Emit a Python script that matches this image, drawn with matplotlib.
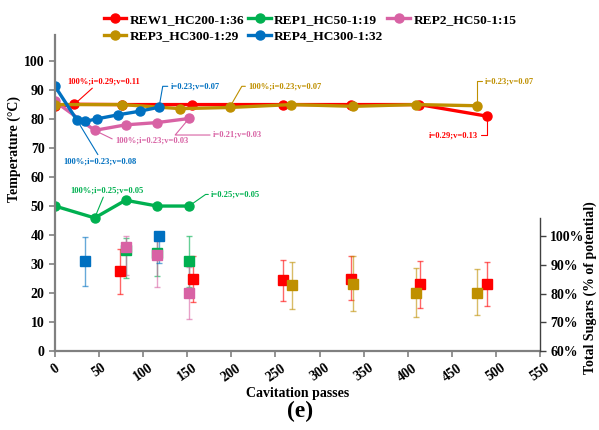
import matplotlib.pyplot as plt
from matplotlib.ticker import FuncFormatter

plt.rcParams['font.family'] = ['Liberation Serif', 'DejaVu Serif']
plt.rcParams['font.weight'] = 'bold'

# temperature series (passes, deg C)
rew1_x = [0, 22, 76, 155, 259, 336, 413, 490]
rew1_t = [84.4, 85.1, 85.0, 85.0, 85.0, 85.0, 85.0, 81.0]
rep1_x = [0, 45, 80, 116, 152]
rep1_t = [50.0, 45.9, 52.0, 50.0, 50.0]
rep2_x = [0, 45, 80, 116, 152]
rep2_t = [86.1, 76.1, 78.0, 78.8, 80.2]
rep3_x = [0, 76, 142, 198, 268, 338, 409, 479]
rep3_t = [85.0, 85.0, 83.6, 84.0, 85.0, 84.4, 85.0, 84.6]
rep4_x = [0, 25, 34, 48, 72, 96, 118]
rep4_t = [91.3, 79.6, 79.2, 80.1, 81.5, 82.7, 84.1]

# total sugars (% of potential) with error bars
rew1_sx = [74, 156, 259, 336, 414, 490]
rew1_s = [87.9, 85.2, 84.6, 85.2, 83.2, 83.5]
rew1_lo = [7.9, 8.3, 7.3, 7.5, 8.1, 7.9]
rew1_hi = [7.8, 7.8, 7.2, 7.8, 8.2, 7.5]
rep1_sx = [80, 116, 152]
rep1_s = [95.3, 94.1, 91.4]
rep1_lo = [9.7, 8.0, 9.0]
rep1_hi = [4.0, 5.0, 8.6]
rep2_sx = [80, 116, 152]
rep2_s = [96.2, 93.3, 80.3]
rep2_lo = [9.8, 11.0, 9.0]
rep2_hi = [3.8, 5.0, 9.0]
rep3_sx = [269, 338, 409, 479]
rep3_s = [82.9, 83.2, 80.3, 80.3]
rep3_lo = [8.1, 9.4, 8.5, 7.9]
rep3_hi = [8.0, 9.8, 8.7, 8.4]
rep4_sx = [34, 118]
rep4_s = [91.4, 100.0]
rep4_lo = [8.6, 9.3]
rep4_hi = [8.3, 1.0]

red = '#FF0000'
green = '#00B050'
pink = '#D862A4'
gold = '#BF9000'
blue = '#0070C0'

fig = plt.figure(figsize=(5.99, 4.30), dpi=100)
ax = fig.add_axes([55 / 599, 79 / 430, 485 / 599, 316 / 430])
ax2 = ax.twinx()

lw = 2.4
ms = 6.5
h_rew1, = ax.plot(rew1_x, rew1_t, '-o', color=red, lw=lw, ms=ms, label='REW1_HC200-1:36')
h_rep1, = ax.plot(rep1_x, rep1_t, '-o', color=green, lw=lw, ms=ms, label='REP1_HC50-1:19')
h_rep2, = ax.plot(rep2_x, rep2_t, '-o', color=pink, lw=lw, ms=ms, label='REP2_HC50-1:15')
h_rep3, = ax.plot(rep3_x, rep3_t, '-o', color=gold, lw=lw, ms=ms, label='REP3_HC300-1:29')
h_rep4, = ax.plot(rep4_x, rep4_t, '-o', color=blue, lw=lw, ms=ms, label='REP4_HC300-1:32')

# sugars on the secondary axis
for sx, s, lo, hi, c in [(rew1_sx, rew1_s, rew1_lo, rew1_hi, red),
                         (rep1_sx, rep1_s, rep1_lo, rep1_hi, green),
                         (rep2_sx, rep2_s, rep2_lo, rep2_hi, pink),
                         (rep3_sx, rep3_s, rep3_lo, rep3_hi, gold),
                         (rep4_sx, rep4_s, rep4_lo, rep4_hi, blue)]:
    ax2.errorbar(sx, s, yerr=[lo, hi], fmt='s', color=c, ms=7.5, mec=c,
                 ecolor=c, elinewidth=1.0, capsize=2.5, capthick=1.0,
                 zorder=3)
    for coll in ax2.containers[-1].lines[2]:
        coll.set_alpha(0.6)
    for cap in ax2.containers[-1].lines[1]:
        cap.set_alpha(0.6)

ax.set_xlim(0, 550)
ax.set_ylim(0, 109)
ax2.set_ylim(60, 60 + 316 / 2.87)
ax.set_xticks(range(0, 551, 50))
ax.set_yticks(range(0, 101, 10))
ax2.set_yticks(range(60, 101, 10))
ax2.yaxis.set_major_formatter(FuncFormatter(lambda v, p: '%d%%' % v))

for a in (ax, ax2):
    a.spines['top'].set_visible(False)
ax.spines['right'].set_visible(False)
ax2.spines['left'].set_visible(False)
ax2.spines['bottom'].set_visible(False)
ax.spines['left'].set_color('#808080')
ax.spines['bottom'].set_color('#808080')
ax.spines['left'].set_linewidth(1.6)
ax.spines['bottom'].set_linewidth(1.6)
ax2.spines['right'].set_color('#404040')
ax2.spines['right'].set_linewidth(1.0)
ax2.spines['right'].set_bounds(60, 106.5)

ax.tick_params(axis='both', colors='#808080', labelcolor='black', labelsize=10,
               length=4, width=1.2)
ax2.tick_params(axis='y', colors='#404040', labelcolor='black', labelsize=10,
                length=4, width=1.0)
for lab in ax.get_xticklabels():
    lab.set_rotation(35)
    lab.set_fontweight('bold')
for lab in ax.get_yticklabels() + ax2.get_yticklabels():
    lab.set_fontweight('bold')

ax.set_xlabel('Cavitation passes', fontsize=10, fontweight='bold', labelpad=2)
ax.set_ylabel('Temperature (°C)', fontsize=10, fontweight='bold')
ax.yaxis.set_label_coords(-0.07, 0.64)
ax2.set_ylabel('Total Sugars (% of potential)', fontsize=10, fontweight='bold')
ax2.yaxis.set_label_coords(1.09, 0.2)

# annotations
afs = 6.1
def note(text, xy, xytext, color, ha='left', relpos=(0, 0.5), conn='arc3'):
    ax.annotate(text, xy=xy, xytext=xytext, color=color, fontsize=afs,
                fontweight='bold', ha=ha, va='center',
                arrowprops=dict(arrowstyle='-', color=color, lw=0.8,
                                relpos=relpos, shrinkA=0, shrinkB=3,
                                connectionstyle=conn))

note('100%;i=0.29;v=0.11', (rew1_x[1], rew1_t[1]), (14.5, 93), red, relpos=(0.38, 0))
note('i=0.23;v=0.07', (rep4_x[-1], rep4_t[-1]), (131, 91.3), blue,
     conn='angle,angleA=0,angleB=80,rad=0')
note('100%;i=0.23;v=0.07', (rep3_x[3], rep3_t[3]), (219, 91.3), gold,
     conn='angle,angleA=0,angleB=60,rad=0')
note('i=0.23;v=0.07', (rep3_x[-1], rep3_t[-1]), (487, 93), gold,
     conn='angle,angleA=0,angleB=90,rad=0')
note('i=0.29;v=0.13', (rew1_x[-1], rew1_t[-1]), (480, 74.4), red, ha='right',
     relpos=(1, 0.5), conn='angle,angleA=0,angleB=90,rad=0')
note('100%;i=0.23;v=0.03', (rep2_x[1], rep2_t[1]), (68, 72.7), pink)
note('i=0.21;v=0.03', (rep2_x[-1], rep2_t[-1]), (179, 74.5), pink,
     conn='angle,angleA=0,angleB=50,rad=0')
note('100%;i=0.23;v=0.08', (rep4_x[1], rep4_t[1]), (9, 65.4), blue, relpos=(0.5, 1))
note('100%;i=0.25;v=0.05', (rep1_x[1], rep1_t[1]), (17, 55.4), green, relpos=(0.47, 0))
note('i=0.25;v=0.05', (rep1_x[-1], rep1_t[-1]), (177, 54), green,
     conn='angle,angleA=0,angleB=35,rad=0')

fig.legend(handles=[h_rew1, h_rep3, h_rep1, h_rep4, h_rep2], ncol=3,
           loc='center', bbox_to_anchor=(310 / 599, 1 - 28 / 430), frameon=False,
           prop={'size': 9.6, 'weight': 'bold'}, handlelength=1.7,
           columnspacing=0.3, handletextpad=0.25, labelspacing=0.3,
           alignment='left')

fig.text(300 / 599, 1 - 411 / 430, '(e)', ha='center', va='center', fontsize=17,
         fontweight='bold', family=['Liberation Serif'])

fig.savefig('out.png', dpi=100)
